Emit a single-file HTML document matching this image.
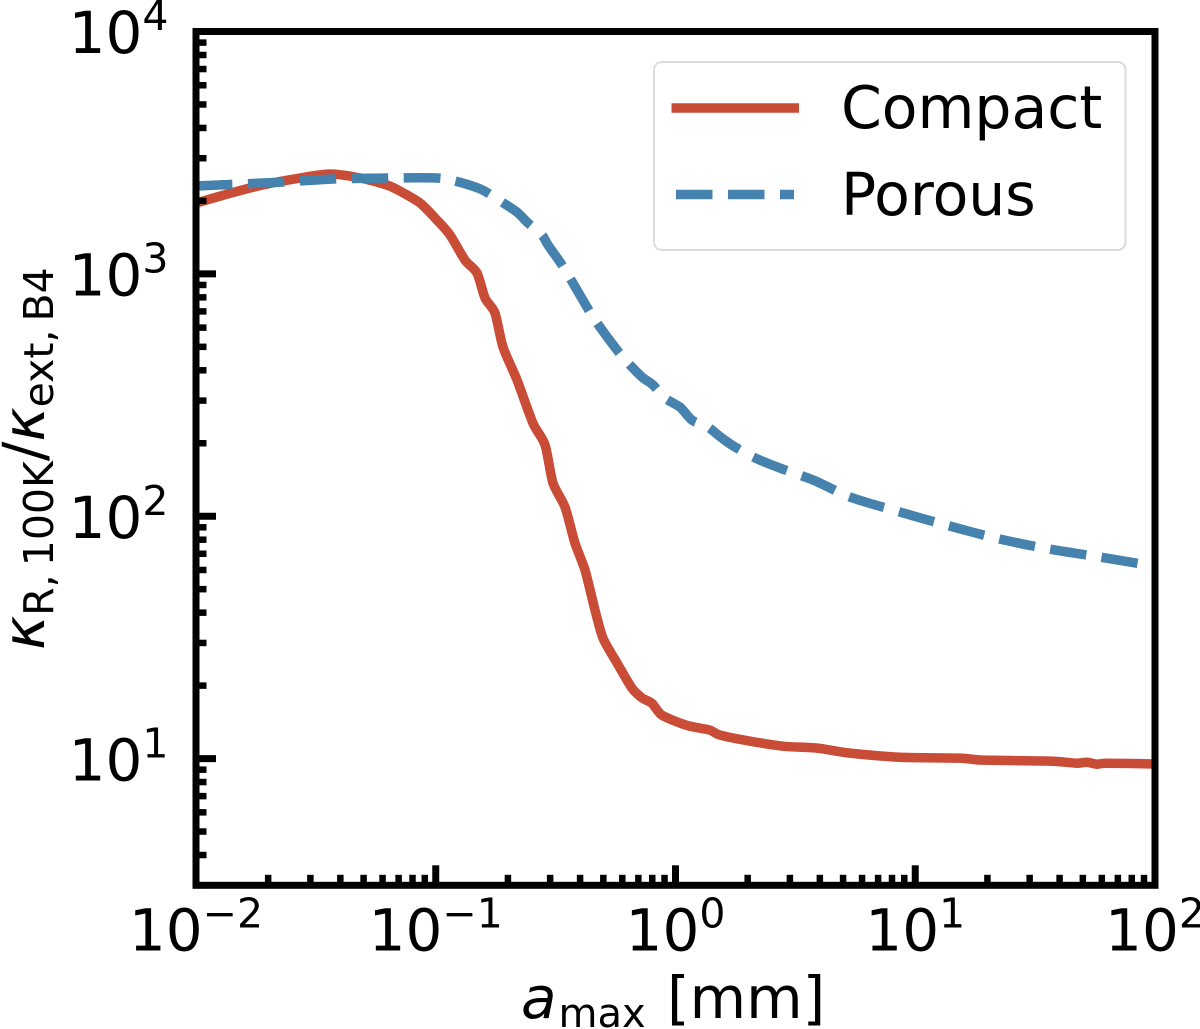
<!DOCTYPE html>
<html lang="en">
<head>
<meta charset="utf-8">
<title>Rosseland to extinction opacity ratio</title>
<style>
html,body{margin:0;padding:0;background:#fff;}
svg{display:block;}
text{font-family:"DejaVu Sans","Liberation Sans",sans-serif;fill:#000;}
</style>
</head>
<body>
<svg id="chart" xmlns="http://www.w3.org/2000/svg" width="1200" height="1029" viewBox="0 0 1200 1029">
  <defs><clipPath id="plot-clip"><rect x="196" y="31.5" width="959" height="853.8"/></clipPath></defs>
  <rect x="0" y="0" width="1200" height="1029" fill="#fff"/>
  <g id="series" clip-path="url(#plot-clip)"></g>
  <g id="ticks"></g>
  <rect x="196" y="31.5" width="959" height="853.8" fill="none" stroke="#000" stroke-width="7"/>
  <g id="tick-labels"></g>

  <text x="521" y="1018" font-size="58"><tspan font-style="italic">a</tspan><tspan font-size="40" dy="9" dx="2">max</tspan><tspan dy="-9" x="667">[mm]</tspan></text>
  <text transform="translate(44,650) rotate(-90)" font-size="58" word-spacing="-5"><tspan font-style="italic">κ</tspan><tspan font-size="41" dy="9">R, 100K</tspan><tspan dy="-9">/</tspan><tspan font-style="italic">κ</tspan><tspan font-size="41" dy="9">ext, B4</tspan></text>

  <g>
    <rect x="654" y="62" width="471.5" height="188" rx="8" ry="8" fill="#fff" fill-opacity="0.8" stroke="#dcdcdc" stroke-width="2"/>
    <line x1="671.5" y1="108" x2="799" y2="108" stroke="#c94c37" stroke-width="9.5"/>
    <text x="841" y="128" font-size="58.4">Compact</text>
    <line x1="676" y1="194.5" x2="794" y2="194.5" stroke="#4682ae" stroke-width="9.5" stroke-dasharray="36.5 15.5"/>
    <text x="841" y="215" font-size="58.4">Porous</text>
  </g>
</svg>
<script>
const compactX = [0.01,0.01386,0.01884,0.02715,0.03623,0.04831,0.0626,0.0709,0.086,0.1012,0.1147,0.1324,0.1486,0.1605,0.1766,0.1907,0.2182,0.2544,0.2856,0.3083,0.346,0.3809,0.4194,0.4615,0.4984,0.5702,0.6588,0.7248,0.798,0.8786,1.117,1.393,1.533,2.045,2.808,3.893,5.344,8.637,15.37,19.17,36.5,47.3,52.0,57.3,63.1,100];
const compactY = [1960,2149,2325,2486,2581,2486,2325,2196,1960,1667,1446,1140,1008,795,689,499,365,242,197,137,109,77.4,59.9,41.0,31.4,24.8,19.5,17.8,16.9,15.1,13.7,13.1,12.5,11.8,11.25,11.04,10.53,10.13,10.04,9.85,9.76,9.57,9.66,9.48,9.57,9.5];
const porousX = [0.01,0.02306,0.03727,0.0626,0.1012,0.1203,0.1501,0.1652,0.1889,0.2182,0.2426,0.2774,0.2939,0.3298,0.3631,0.4274,0.4706,0.5702,0.6338,0.7248,0.8058,0.904,1.044,1.172,1.366,1.563,1.771,2.146,2.728,3.818,5.344,8.637,13.96,22.6,36.5,59.0,100];
const porousY = [2303,2392,2462,2486,2486,2415,2260,2155,1978,1799,1621,1446,1315,1119,961,729,627,485,429,375,348,307,282,249,233,210,193,174,158,140,120,104,91.0,80.4,73.1,67.8,62.2];
const xTickValues = [0.01,0.1,1,10,100];
const xTickLabels = ["−2","−1","0","1","2"];
const yTickValues = [10,100,1000,10000];
const yTickLabels = ["1","2","3","4"];
const minorMultipliers = [2,3,4,5,6,7,8,9];
const xDomain = [0.01,100];
const yDomain = [3,10000];

const SVGNS = "http://www.w3.org/2000/svg";
const plot = {left:196,right:1155,top:31.5,bottom:885.3};
function xScale(v){
  const a=Math.log10(xDomain[0]),b=Math.log10(xDomain[1]);
  return plot.left+(Math.log10(v)-a)/(b-a)*(plot.right-plot.left);
}
function yScale(v){
  const a=Math.log10(yDomain[0]),b=Math.log10(yDomain[1]);
  return plot.bottom-(Math.log10(v)-a)/(b-a)*(plot.bottom-plot.top);
}
function makeLine(parent,x1,y1,x2,y2,w){
  const l=document.createElementNS(SVGNS,"line");
  l.setAttribute("x1",x1);l.setAttribute("y1",y1);
  l.setAttribute("x2",x2);l.setAttribute("y2",y2);
  l.setAttribute("stroke","#000");l.setAttribute("stroke-width",w);
  parent.appendChild(l);
  return l;
}
const seriesG=document.getElementById("series");
function pathFrom(xs,ys){
  const px=xs.map(xScale), py=ys.map(yScale);
  let d="M"+px[0].toFixed(2)+" "+py[0].toFixed(2);
  const k=1/8;
  for(let i=0;i<px.length-1;i++){
    const i0=Math.max(i-1,0), i3=Math.min(i+2,px.length-1);
    const c1x=px[i]+(px[i+1]-px[i0])*k, c1y=py[i]+(py[i+1]-py[i0])*k;
    const c2x=px[i+1]-(px[i3]-px[i])*k, c2y=py[i+1]-(py[i3]-py[i])*k;
    d+=" C"+c1x.toFixed(2)+" "+c1y.toFixed(2)+" "+c2x.toFixed(2)+" "+c2y.toFixed(2)+" "+px[i+1].toFixed(2)+" "+py[i+1].toFixed(2);
  }
  return d;
}
const compactPath=document.createElementNS(SVGNS,"path");


compactPath.setAttribute("d",pathFrom(compactX,compactY));
compactPath.setAttribute("fill","none");
compactPath.setAttribute("stroke","#c94c37");
compactPath.setAttribute("stroke-width","9.5");
compactPath.setAttribute("stroke-linejoin","round");
seriesG.appendChild(compactPath);
const porousPath=document.createElementNS(SVGNS,"path");


porousPath.setAttribute("d",pathFrom(porousX,porousY));
porousPath.setAttribute("fill","none");
porousPath.setAttribute("stroke","#4682ae");
porousPath.setAttribute("stroke-width","9.5");
porousPath.setAttribute("stroke-dasharray","36.5 15.5");
porousPath.setAttribute("stroke-linejoin","round");
seriesG.appendChild(porousPath);

const ticksG=document.getElementById("ticks");
const labelsG=document.getElementById("tick-labels");
function inRange(v,d){return v>=d[0]*0.9999&&v<=d[1]*1.0001;}
for(let e=-3;e<=4;e++){
  minorMultipliers.forEach(m=>{
    const v=m*Math.pow(10,e);
    if(inRange(v,xDomain)){
      const t=makeLine(ticksG,xScale(v),plot.bottom,xScale(v),plot.bottom-10.5,6.5);
      
      
    }
    if(inRange(v,yDomain)){
      const t=makeLine(ticksG,plot.left,yScale(v),plot.left+10.5,yScale(v),6.5);
      
      
    }
  });
}
function makeTickLabel(x,y,anchor,exp,name){
  const t=document.createElementNS(SVGNS,"text");
  
  
  t.setAttribute("x",x);t.setAttribute("y",y);
  t.setAttribute("text-anchor",anchor);
  t.setAttribute("font-size","58");
  const base=document.createElementNS(SVGNS,"tspan");
  base.textContent="10";
  const sup=document.createElementNS(SVGNS,"tspan");
  sup.setAttribute("font-size","41");
  sup.setAttribute("dy","-23");
  sup.textContent=exp;
  t.appendChild(base);t.appendChild(sup);
  labelsG.appendChild(t);
}
xTickValues.forEach((v,i)=>{
  const t=makeLine(ticksG,xScale(v),plot.bottom,xScale(v),plot.bottom-20,7);
  
  
  makeTickLabel(xScale(v),950.5,"middle",xTickLabels[i],"x-tick-label");
});
yTickValues.forEach((v,i)=>{
  const t=makeLine(ticksG,plot.left,yScale(v),plot.left+20,yScale(v),7);
  
  
  makeTickLabel(168.5,yScale(v)+21.7,"end",yTickLabels[i],"y-tick-label");
});
</script>
</body>
</html>
